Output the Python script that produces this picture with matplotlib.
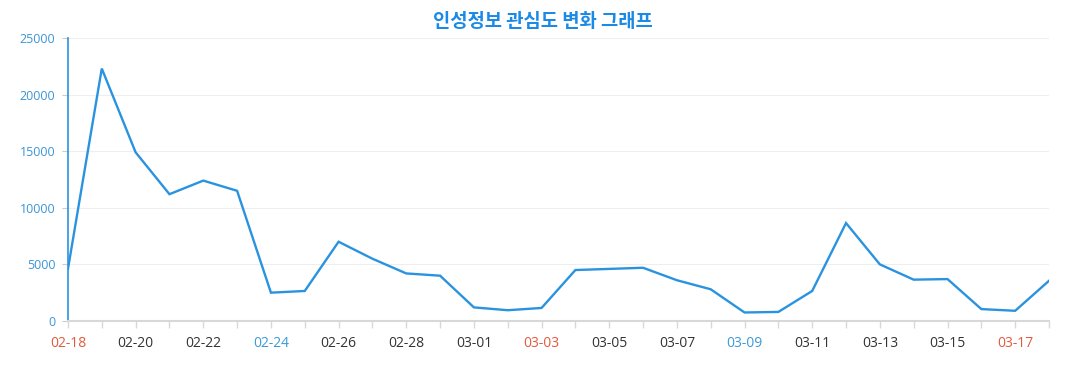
import matplotlib
matplotlib.use("Agg")
from matplotlib import pyplot as plt

dates = ["02-18", "02-19", "02-20", "02-21", "02-22", "02-23", "02-24", "02-25",
         "02-26", "02-27", "02-28", "02-29", "03-01", "03-02", "03-03", "03-04",
         "03-05", "03-06", "03-07", "03-08", "03-09", "03-10", "03-11", "03-12",
         "03-13", "03-14", "03-15", "03-16", "03-17", "03-18"]
counts = [4600, 22300, 14900, 11200, 12400, 11500, 2500, 2650, 7000, 5500,
          4200, 4000, 1200, 950, 1150, 4500, 4600, 4700, 3600, 2800,
          750, 800, 2650, 8650, 5000, 3650, 3700, 1050, 900, 3550]
red_days = ["02-18", "03-03", "03-17"]
blue_days = ["02-24", "03-09"]

plt.rcParams['font.family'] = ['Open Sans', 'Noto Sans CJK KR', 'DejaVu Sans']

fig = plt.figure(figsize=(10.77, 3.9), dpi=100)
ax = fig.add_axes([0.0631, 0.177, 0.9109, 0.7256])

x = list(range(len(dates)))
ax.plot(x, counts, color='#2a93e0', linewidth=1.7, solid_joinstyle='miter')

ax.set_xlim(0, len(dates) - 1)
ax.set_ylim(0, 25000)
ax.set_yticks(range(0, 25001, 5000))
ax.grid(axis='y', color='#eeeeee', linewidth=0.8)
ax.set_axisbelow(True)

ax.set_xticks(x, minor=True)
ax.set_xticks(x[::2])
ax.set_xticklabels(dates[::2])
ax.tick_params(axis='x', which='both', length=5, color='#d8d8d8', width=1)
ax.tick_params(axis='x', which='major', labelsize=10, labelcolor='#333333', pad=6)
ax.tick_params(axis='y', length=4, color='#cccccc', labelsize=9, labelcolor='#3a95d6', pad=5)
for lab in ax.get_xticklabels():
    if lab.get_text() in red_days:
        lab.set_color('#e05a3e')
    elif lab.get_text() in blue_days:
        lab.set_color('#3a9ad9')

for s in ['top', 'right']:
    ax.spines[s].set_visible(False)
ax.spines['left'].set_color('#2a93e0')
ax.spines['left'].set_linewidth(1.2)
ax.spines['bottom'].set_color('#d8d8d8')
ax.spines['bottom'].set_linewidth(1.5)

fig.text(0.504, 0.945, "인성정보 관심도 변화 그래프", ha='center', va='center',
         fontsize=13.5, fontweight='bold', color='#1a8ae6',
         family=['Noto Sans CJK KR', 'DejaVu Sans'])

fig.savefig("out.png", dpi=100)
